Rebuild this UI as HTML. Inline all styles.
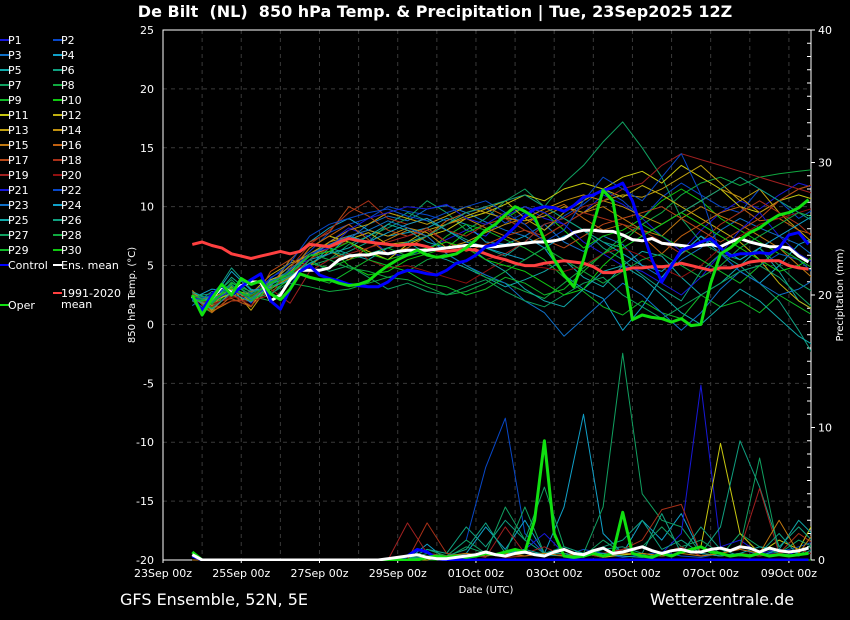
<!DOCTYPE html>
<html><head><meta charset="utf-8"><style>
html,body{margin:0;padding:0;background:#000;width:850px;height:620px;overflow:hidden}
svg text{font-family:"DejaVu Sans","Liberation Sans",sans-serif;fill:#fff}
</style></head><body>
<svg id="chart" width="850" height="620" viewBox="0 0 850 620" xmlns="http://www.w3.org/2000/svg">
<rect width="850" height="620" fill="#000"/>
<text x="435" y="17" text-anchor="middle" font-size="16" font-weight="bold" style="white-space:pre">De Bilt  (NL)  850 hPa Temp. &amp; Precipitation | Tue, 23Sep2025 12Z</text>
<defs><clipPath id="pc"><rect x="163" y="30" width="648" height="531"/></clipPath></defs>
<g id="grid"></g>
<g id="axes"></g>
<g id="legend"></g>
<g id="series" clip-path="url(#pc)"></g>
<text x="486" y="593" text-anchor="middle" font-size="10">Date (UTC)</text>
<text transform="translate(135,295) rotate(-90)" text-anchor="middle" font-size="10">850 hPa Temp. (°C)</text>
<text transform="translate(843,295) rotate(-90)" text-anchor="middle" font-size="10">Precipitation (mm)</text>
<text x="120" y="605" font-size="16">GFS Ensemble, 52N, 5E</text>
<text x="650" y="605" font-size="16">Wetterzentrale.de</text>
</svg>
<script>
const tempTicks=[-20,-15,-10,-5,0,5,10,15,20,25];
const precipTicks=[0,10,20,30,40];
const dateLabels=["23Sep 00z","25Sep 00z","27Sep 00z","29Sep 00z","01Oct 00z","03Oct 00z","05Oct 00z","07Oct 00z","09Oct 00z"];
const climMean=[6.8,7.0,6.7,6.5,6.0,5.8,5.6,5.8,6.0,6.2,6.0,6.2,6.8,6.7,6.6,7.0,7.3,7.1,7.0,6.9,6.8,6.7,6.8,6.8,6.6,6.3,6.2,6.3,6.4,6.3,6.0,5.7,5.5,5.2,5.0,5.0,5.2,5.3,5.4,5.3,5.2,4.9,4.4,4.4,4.6,4.8,4.8,4.9,4.9,5.0,5.2,5.0,4.8,4.6,4.8,4.8,5.0,5.3,5.4,5.4,5.4,5.0,4.8,4.7];
const ensMean=[2.4,1.0,2.2,3.2,2.7,3.3,3.6,3.6,2.0,2.5,3.8,4.6,4.6,4.6,4.8,5.5,5.8,5.9,5.9,6.1,6.0,6.2,6.3,6.3,6.3,6.4,6.5,6.6,6.7,6.7,6.6,6.6,6.7,6.8,6.9,7.0,7.0,7.1,7.3,7.8,8.0,8.0,7.9,7.9,7.6,7.2,7.1,7.3,6.9,6.8,6.7,6.6,6.7,6.8,6.6,7.0,7.3,7.0,6.8,6.6,6.6,6.5,5.8,5.3];
const control=[2.3,1.2,2.5,3.3,2.5,3.2,3.8,4.3,2.0,1.3,3.0,4.5,5.0,4.2,3.9,3.7,3.4,3.3,3.2,3.2,3.6,4.3,4.6,4.5,4.3,4.2,4.6,5.2,5.4,5.9,6.6,6.8,7.5,8.3,9.2,9.8,10.0,9.9,9.6,10.1,10.8,11.0,11.4,11.6,12.0,10.5,8.0,5.5,3.6,5.0,6.3,6.6,7.0,7.3,6.5,5.8,6.0,6.0,6.1,6.0,6.5,7.6,7.8,6.8];
const oper=[2.5,0.8,2.2,3.4,2.5,3.9,3.4,3.7,2.6,2.1,3.0,4.3,4.0,3.8,3.8,3.5,3.3,3.4,3.7,4.4,5.0,5.5,5.9,6.3,5.9,5.7,5.8,6.0,6.5,7.2,8.0,8.5,9.3,10.0,9.6,9.1,7.2,5.5,4.2,3.2,5.5,8.5,11.4,10.5,5.5,0.4,0.8,0.6,0.5,0.2,0.5,-0.1,0.0,3.5,6.0,6.5,7.2,7.8,8.2,8.8,9.3,9.5,9.9,10.6];
const members=[
[2.0,2.5,3.2,1.8,4.0,4.8,5.5,7.0,8.2,7.5,6.0,5.8,6.5,7.2,8.0,7.5,9.2,10.0,9.0,8.5,9.5,11.0,10.2,9.0,7.5,6.2,8.0,9.5,10.5,9.8,11.0,12.0,11.5],
[2.5,1.8,3.0,2.2,3.5,5.0,6.2,7.8,8.5,9.0,10.0,9.6,9.3,8.8,9.5,9.9,8.6,9.5,8.0,9.2,10.2,11.5,10.5,9.0,10.8,12.0,11.0,10.0,9.5,11.5,10.5,9.0,10.0],
[1.6,2.8,2.5,2.0,3.8,4.5,6.0,6.8,7.2,8.5,9.2,8.8,9.8,10.1,9.5,8.7,8.0,7.5,8.5,7.0,6.2,7.5,6.8,5.0,4.0,5.5,6.5,8.0,9.0,8.2,7.5,6.8,5.5],
[2.2,3.0,2.8,2.5,3.2,5.5,7.0,8.2,9.0,8.0,7.5,7.8,8.2,9.0,8.5,7.0,6.8,7.5,6.5,4.2,3.0,2.2,-0.5,1.5,4.0,6.0,7.5,6.0,4.5,3.5,5.0,6.8,7.5],
[2.8,2.0,3.5,2.8,3.0,4.2,5.0,6.5,6.0,5.5,6.5,7.0,6.0,5.5,4.8,4.0,3.2,3.8,4.5,5.5,4.0,3.2,5.0,6.2,5.8,4.0,2.5,3.5,5.0,6.5,4.5,2.0,1.0],
[2.0,2.2,4.8,3.0,2.5,4.0,6.0,5.5,6.2,7.0,8.5,9.5,8.8,8.0,7.2,6.5,5.8,7.0,8.5,9.0,8.0,6.5,5.5,4.2,3.0,2.0,4.5,6.0,5.0,3.5,2.0,-0.5,-3.3],
[2.4,2.6,3.4,2.0,3.5,4.0,5.0,5.5,6.8,7.5,8.2,9.0,10.5,9.5,8.0,9.0,10.5,11.5,10.0,12.0,13.5,15.5,17.2,15.0,12.5,9.0,7.0,6.0,5.5,6.5,5.0,3.5,2.5],
[2.2,1.5,3.0,2.4,2.0,3.5,3.2,2.8,3.0,3.5,4.0,4.5,5.5,6.0,5.0,4.0,3.5,2.8,2.2,3.5,4.8,6.0,7.5,8.5,9.5,11.0,12.0,12.5,11.8,12.5,12.8,13.0,13.2],
[2.0,1.0,3.5,2.8,3.2,4.0,5.2,4.8,5.5,6.0,6.5,5.8,6.2,7.5,8.5,8.0,7.2,6.5,5.5,4.0,2.8,1.5,0.8,2.0,1.0,0.5,2.5,1.5,2.0,1.0,2.5,1.5,0.5],
[2.6,1.4,3.0,2.5,2.8,3.8,5.5,6.5,5.0,4.2,4.5,5.5,6.0,6.5,7.8,8.5,9.0,10.0,9.5,8.0,6.5,7.5,8.0,9.0,10.5,11.5,10.5,9.0,8.0,7.0,6.0,5.5,4.0],
[2.3,2.0,2.6,1.5,3.8,4.4,6.5,7.5,7.0,6.2,5.5,6.8,7.5,8.0,9.0,9.5,10.2,11.0,10.5,11.5,12.0,11.5,12.5,13.0,12.0,13.5,12.5,11.5,10.0,9.5,10.5,11.0,10.5],
[2.5,1.2,2.8,2.6,4.2,5.2,5.8,6.5,7.2,7.8,6.8,7.0,8.0,8.5,9.2,9.8,10.5,9.0,8.0,9.5,10.5,11.5,10.8,11.8,11.0,10.0,9.0,8.0,7.0,5.5,3.5,2.0,1.0],
[2.7,1.6,3.2,1.2,3.5,5.0,6.0,7.0,8.0,8.5,9.5,9.0,8.5,9.2,10.0,9.5,9.0,8.8,9.2,10.0,9.5,10.5,11.0,10.8,11.5,12.5,13.5,12.0,10.5,11.5,9.5,8.0,6.5],
[2.1,2.3,3.0,2.0,3.0,4.0,5.5,7.0,7.5,8.0,7.5,8.2,7.8,6.5,7.0,7.8,8.5,9.0,9.8,10.5,11.0,10.5,10.0,9.2,8.5,9.5,10.5,11.5,10.8,9.5,10.5,11.5,12.0],
[2.9,1.1,2.0,2.2,3.2,5.5,5.0,6.2,5.5,6.5,7.2,8.0,7.5,8.5,9.0,8.2,7.5,6.8,7.5,8.5,9.5,10.0,9.0,8.0,7.5,9.0,10.0,9.2,8.5,7.5,6.5,5.0,3.5],
[2.4,1.0,2.4,2.8,3.6,4.5,6.5,7.5,8.5,7.2,6.0,6.5,7.5,8.8,9.5,10.0,9.2,8.5,9.5,10.2,9.0,8.0,8.5,7.5,6.0,7.5,8.5,9.5,10.0,8.8,9.0,8.0,7.5],
[2.0,1.8,2.2,1.5,4.5,5.5,7.0,7.8,10.0,9.2,8.0,7.5,8.2,7.0,6.2,6.8,7.5,8.0,7.2,6.5,7.5,8.5,9.0,9.5,10.0,9.0,8.0,7.0,8.0,9.0,10.5,11.5,12.0],
[2.2,1.3,2.0,2.0,2.5,4.8,6.8,8.0,9.5,10.5,9.0,8.5,9.0,8.0,7.5,8.5,9.0,8.0,7.5,8.5,9.5,9.0,8.5,8.0,7.0,6.0,7.0,8.5,9.5,10.5,9.5,8.5,7.0],
[2.6,1.5,2.5,1.6,3.0,1.8,4.5,5.5,6.0,6.5,7.0,7.5,8.0,7.0,6.5,5.5,6.0,7.0,8.5,9.0,10.0,10.5,11.5,12.0,13.5,14.5,14.0,13.5,13.0,12.5,12.0,11.5,11.0],
[2.4,1.7,2.3,2.4,3.4,4.2,5.5,6.5,7.0,5.5,4.8,5.0,4.5,4.0,3.5,4.5,5.5,5.0,4.8,4.5,5.0,6.0,6.5,5.8,4.8,4.0,5.0,6.5,7.5,8.5,9.0,9.5,10.0],
[2.3,1.9,2.9,2.3,3.3,4.6,6.0,6.5,8.0,9.0,9.5,10.0,9.8,10.2,9.0,8.5,9.5,10.0,9.5,8.5,7.0,6.0,5.0,4.5,3.5,2.5,4.0,6.0,8.0,9.5,7.5,6.0,5.0],
[2.1,2.4,3.3,2.6,3.9,5.2,7.5,8.5,9.0,9.5,9.8,9.2,8.8,9.5,10.0,10.5,9.5,8.5,7.0,8.0,10.5,12.5,11.5,10.5,12.5,14.5,11.0,6.0,4.5,5.0,6.0,5.5,4.0],
[2.5,1.9,3.1,2.1,3.7,4.3,5.8,6.8,7.5,8.0,8.8,8.2,7.5,6.0,5.0,4.2,3.5,2.0,1.0,-1.0,0.5,2.0,3.5,2.5,1.0,-0.5,1.0,3.0,4.5,3.5,2.5,3.0,4.0],
[2.0,2.1,4.5,2.9,3.1,3.8,5.5,6.0,7.5,7.0,7.8,8.5,9.0,8.0,7.0,6.5,6.0,5.5,6.5,7.5,8.0,7.0,6.0,5.0,4.5,6.0,7.5,6.5,5.5,6.5,7.5,8.5,9.5],
[2.3,1.3,2.7,1.9,3.4,4.1,5.2,6.0,6.5,7.5,8.5,8.0,7.0,6.5,6.8,5.5,4.5,3.0,2.0,1.5,3.0,4.5,5.0,4.0,2.5,1.0,0.0,1.5,3.0,2.0,0.5,-1.0,-2.0],
[2.7,2.1,4.0,2.7,3.3,4.7,5.8,6.2,5.8,6.0,6.5,7.0,7.5,8.5,9.5,10.0,10.5,11.0,10.0,9.0,8.0,7.0,6.5,7.5,8.5,9.5,10.5,11.5,12.5,11.5,10.5,9.5,8.5],
[2.4,2.3,3.8,2.2,2.6,3.6,5.5,4.5,5.0,4.0,3.0,3.5,2.8,2.5,3.2,3.8,2.8,2.0,1.5,2.5,3.5,4.0,2.5,1.5,0.5,1.5,2.5,3.5,4.5,5.0,4.0,2.5,1.0],
[2.2,1.7,3.6,2.5,3.6,4.2,6.0,5.5,4.8,4.5,4.0,3.8,3.2,2.5,2.8,3.5,4.5,5.5,6.5,5.5,4.5,3.5,4.5,5.5,6.0,5.0,4.0,5.0,6.5,7.5,8.5,9.5,9.0],
[2.5,1.8,3.3,2.0,3.0,4.5,4.0,3.5,4.5,5.5,5.0,4.5,3.5,3.2,2.5,3.0,4.0,3.5,2.5,3.0,4.5,6.0,7.0,8.5,7.5,6.5,5.5,4.5,3.5,5.0,6.5,5.5,4.5],
[2.1,2.0,3.1,2.3,3.5,4.4,5.8,6.2,7.0,6.0,5.5,6.0,6.5,7.0,6.5,5.5,5.0,4.5,3.5,2.5,3.0,5.0,6.5,7.5,8.5,9.5,8.5,7.5,6.5,5.5,4.5,5.0,6.0]];
const memberColors=["#1818d8","#0848c8","#1070c8","#10a0c8","#10a8a8","#10a080","#10a060","#10a840","#10b828","#10c810","#c8c810","#c0b010","#c0a010","#c09010","#c07810","#c06010","#b84818","#a83018","#a02020","#901010","#1818d8","#0848c8","#1070c8","#10a0c8","#10a8a8","#10a080","#10a060","#10a840","#10b828","#10c810"];
const precipMemberIdx=[21,3,6,0,10,25,26,18,17,5,24,14];
const precipMembers=[
[0,0,0,0,0,0,0,0,0,0,0,0,0.5,0.3,1.5,7.0,10.7,2.0,0.5,0.3,0.8,0.5,0.2,0.4,0.6,0.3,0.2,0.5,0.8,0.4,0.6,1.0,1.5],
[0,0,0,0,0,0,0,0,0,0,0,0,1.2,0,0.5,2.5,0.8,3.0,0.5,4.0,11.0,2.0,0.5,3.0,1.5,3.5,0.5,0.3,0.5,0.3,0.8,0.5,0.5],
[0,0,0,0,0,0,0,0,0,0,0,0,0.8,0.3,1.5,0.5,4.0,1.5,5.5,1.0,0.5,4.0,15.6,5.0,3.0,2.5,0.5,0.3,2.0,1.0,0.5,0.3,1.5],
[0,0,0,0,0,0,0,0,0,0,0,0,0,0.2,0.5,0.3,0.5,0.8,2.0,0.5,0.3,0.5,0.8,1.0,0.5,2.0,13.2,1.0,1.5,0.5,0.8,0.3,1.0],
[0,0,0,0,0,0,0,0,0,0,0,0,0,0.3,0.2,0.5,0.3,0.5,0.5,0.3,0.5,0.2,0.4,0.5,0.3,0.5,1.0,8.8,2.0,0.5,1.5,0.8,3.5],
[0,0,0,0,0,0,0,0,0,0,0,0,0.8,0.5,2.5,1.0,3.0,1.5,0.5,1.0,0.5,1.0,1.5,3.0,0.8,1.5,0.5,2.5,9.0,5.5,1.0,2.5,1.0],
[0,0,0,0,0,0,0,0,0,0,0,0,0.5,0.2,1.0,0.5,0.5,4.0,0.5,0.5,0.3,1.5,0.5,1.0,2.5,1.0,1.5,0.5,1.0,7.7,0.5,1.5,0.8],
[0,0,0,0,0,0,0,0,0,0,0,2.8,0.5,0.3,0.5,0.2,2.5,0.5,1.0,0.3,0.5,0.2,0.8,1.0,0.5,1.0,0.3,0.5,0.8,5.4,0.5,0.8,0.3],
[0,0,0,0,0,0,0,0,0,0,0,0,2.8,0.5,0.3,0.5,0.2,0.3,0.5,0.5,0.3,0.5,0.8,1.5,3.8,4.2,0.5,0.3,0.5,0.3,0.5,2.0,1.0],
[0,0,0,0,0,0,0,0,0,0,0,0,0.2,0.3,0.8,2.8,0.5,0.5,0.5,0.5,0.2,0.8,1.0,0.5,3.5,0.5,2.5,0.8,0.3,0.5,2.0,0.3,1.0],
[0,0,0,0,0,0,0,0,0,0,0,0,0.3,0.2,0.5,0.3,0.5,0.8,0.4,0.3,0.5,0.5,0.3,0.2,0.5,0.8,0.5,0.3,0.5,1.0,0.8,3.0,1.5],
[0,0,0,0,0,0,0,0,0,0,0,0,0.2,0.3,0.5,0.3,0.5,0.3,0.5,0.3,0.5,0.3,0.5,0.5,0.3,0.5,0.3,0.5,0.8,0.5,3.0,0.5,2.5]];
const operPrecip=[0.6,0,0,0,0,0,0,0,0,0,0,0,0,0,0,0,0,0,0,0,0,0,0,0,0.2,0.3,0.2,0.3,0.2,0.3,0.5,0.4,0.6,0.8,0.6,3.0,9.0,2.0,0.3,0.2,0.3,0.5,0.3,0.5,3.6,0.5,0.3,0.2,0.5,0.3,0.6,0.8,1.0,0.6,0.5,0.3,0.4,0.3,0.5,0.3,0.4,0.3,0.4,0.5];
const controlPrecip=[0.3,0,0,0,0,0,0,0,0,0,0,0,0,0,0,0,0,0,0,0,0,0,0.3,0.8,0.6,0.1,0,0,0,0,0,0,0,0,0,0,0,0,0,0,0,0,0,0,0,0,0,0,0,0,0,0,0,0,0,0,0,0,0,0,0,0,0,0];
const meanPrecip=[0.4,0,0,0,0,0,0,0,0,0,0,0,0,0,0,0,0,0,0,0,0.1,0.2,0.3,0.4,0.2,0.1,0.1,0.2,0.3,0.4,0.6,0.4,0.3,0.5,0.6,0.4,0.3,0.6,0.8,0.5,0.4,0.7,0.9,0.5,0.6,0.8,1.0,0.7,0.5,0.7,0.8,0.6,0.6,0.8,0.9,0.7,1.0,0.9,0.6,0.9,0.7,0.6,0.7,0.9];

const NS='http://www.w3.org/2000/svg';
const X0=163,DAYPX=39.12,YT=30,YB=560;
function xAt(hours){return X0+hours/24*DAYPX;}
const START_H=18;
function yT(v){return YB-(v+20)/45*(YB-YT);}
function yP(v){return YB-v/40*(YB-YT);}
function mk(tag,attrs,parent){const e=document.createElementNS(NS,tag);for(const k in attrs)e.setAttribute(k,attrs[k]);parent.appendChild(e);return e;}
const grid=document.getElementById('grid'),axes=document.getElementById('axes'),series=document.getElementById('series'),legend=document.getElementById('legend');

for(let d=1;d<=16;d++){const x=xAt(d*24);
 const l=mk('line',{x1:x,x2:x,y1:YT,y2:YB,stroke:'#3a3a3a','stroke-dasharray':'4,4'},grid);
 
 }
tempTicks.forEach(v=>{const y=yT(v);
 if(v>-20&&v<25){const l=mk('line',{x1:X0,x2:811,y1:y,y2:y,stroke:'#3a3a3a','stroke-dasharray':'4,4'},grid);
 
 }
 const t=mk('text',{x:154,y:y+4,'text-anchor':'end','font-size':11},axes);t.textContent=v;
 
 });
for(let p=0;p<=40;p++){const y=yP(p);mk('line',{x1:811,x2:p%10===0?815:807,y1:y,y2:y,stroke:'#fff'},axes);}
precipTicks.forEach(p=>{const t=mk('text',{x:818,y:yP(p)+4,'font-size':11},axes);t.textContent=p;
 
 });
dateLabels.forEach((s,i)=>{const x=xAt(i*48);const t=mk('text',{x:x,y:577,'text-anchor':'middle','font-size':11},axes);t.textContent=s;
 
 
 mk('line',{x1:x,x2:x,y1:YB,y2:YB+3,stroke:'#fff'},axes);});
const frame=mk('rect',{x:X0,y:YT,width:811-X0,height:YB-YT,fill:'none',stroke:'#fff','stroke-width':1},axes);



function poly(vals,stepH,yf,color,w,name){
 const pts=vals.map((v,i)=>xAt(START_H+i*stepH).toFixed(1)+','+yf(v).toFixed(1)).join(' ');
 const p=mk('polyline',{points:pts,fill:'none',stroke:color,'stroke-width':w,'stroke-linejoin':'round'},series);
 
 
 return p;}
members.forEach((m,i)=>poly(m,12,yT,memberColors[i],1,'temp-line-p'+(i+1)));
for(let i=0;i<30;i++){const k=precipMemberIdx.indexOf(i);
 if(k<0){const z=new Array(33).fill(0);poly(z,12,yP,memberColors[i],1,'precip-line-p'+(i+1));}}
precipMembers.forEach((m,k)=>{const i=precipMemberIdx[k];poly(m,12,yP,memberColors[i],1,'precip-line-p'+(i+1));});
poly(controlPrecip,6,yP,'#0000ff',3,'precip-line-control');
poly(operPrecip,6,yP,'#10e010',3,'precip-line-oper');
poly(meanPrecip,6,yP,'#ffffff',3,'precip-line-ens-mean');
poly(climMean,6,yT,'#ff4040',3,'temp-line-climate-mean');
poly(ensMean,6,yT,'#ffffff',3,'temp-line-ens-mean');
poly(control,6,yT,'#0000ff',3,'temp-line-control');
poly(oper,6,yT,'#10e010',3,'temp-line-oper');

function legItem(x,y,color,label,name){
 const g=mk('g',{},legend);
 
 
 mk('line',{x1:x,x2:x+9,y1:y,y2:y,stroke:color,'stroke-width':2},g);
 const t=mk('text',{x:x+8,y:y+4,'font-size':11},g);t.textContent=label;return t;}
for(let i=0;i<30;i++){const col=i%2,row=Math.floor(i/2);
 legItem(col?53:0,40+row*15,memberColors[i],'P'+(i+1),'legend-entry-p'+(i+1));}
legItem(0,265,'#0000ff','Control','legend-entry-control');
legItem(53,265,'#ffffff','Ens. mean','legend-entry-ens-mean');
const ct=legItem(53,293,'#ff4040','1991-2020','legend-entry-climate-mean');
const t2=mk('text',{x:61,y:308,'font-size':11},legend);t2.textContent='mean';
legItem(0,305,'#10e010','Oper','legend-entry-oper');
</script>
</body></html>
